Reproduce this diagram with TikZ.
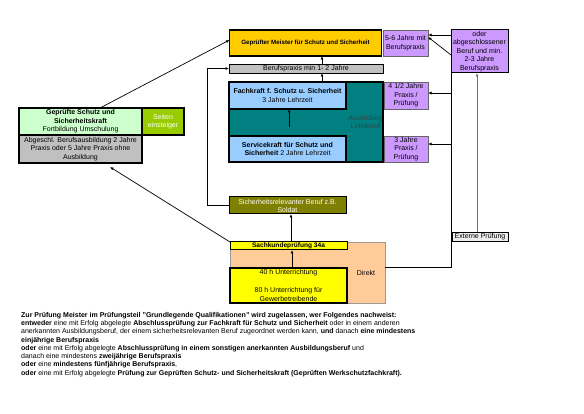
\documentclass[tikz,border=0pt]{standalone}
\usepackage{fontspec}
\setmainfont{Liberation Sans}
\usetikzlibrary{arrows.meta}
\definecolor{gold}{HTML}{FFCC00}
\definecolor{lila}{HTML}{CC99FF}
\definecolor{grau}{HTML}{C0C0C0}
\definecolor{petrol}{HTML}{008080}
\definecolor{hellblau}{HTML}{99CCFF}
\definecolor{hellgruen}{HTML}{CCFFCC}
\definecolor{gruen}{HTML}{99CC00}
\definecolor{oliv}{HTML}{808000}
\definecolor{pfirsich}{HTML}{FFCC99}
\definecolor{gelb}{HTML}{FFFF00}
\begin{document}
\begin{tikzpicture}[x=1pt,y=-1pt,>={Latex[length=3.5pt,width=3pt]}]
	
	% Style for the boxes
	\tikzstyle{box}=[
	rectangle,
	draw,
	inner sep=0pt,
	outer sep=0pt,
	align=center,
	font=\fontsize{7}{8.5}\selectfont
	]
	\tikzstyle{pbox}=[box, fill=lila, draw=black!60, line width=0.8pt]
	\tikzstyle{verb}=[->,line width=0.7pt]
	
	\fill[white] (0,0) rectangle (584,414);
	\useasboundingbox (0,0) rectangle (584,414);
	
	% --- Meister row ---
	\node[box, fill=gold, line width=1.5pt, minimum width=152pt, minimum height=26pt, font=\bfseries\fontsize{6.2}{8}\selectfont] (GMS) at (305.5,43) {Geprüfter Meister für Schutz und Sicherheit};
	\node[pbox, minimum width=45pt, minimum height=26pt] (J56) at (405.5,43) {5-6 Jahre mit\\Berufspraxis};
	\node[box, fill=lila, line width=1pt, minimum width=57pt, minimum height=43pt] (ABS) at (479.5,51.5) {oder\\abgeschlossener\\Beruf und min.\\2-3 Jahre\\Berufspraxis};
	\node[box, fill=grau, line width=0.8pt, minimum width=154pt, minimum height=9pt] (BP) at (306,68.5) {Berufspraxis min 1- 2 Jahre};
	
	% --- Lehrberuf ---
	\node[box, fill=petrol, line width=1.2pt, minimum width=154pt, minimum height=80pt] (AL) at (306,122) {};
	\node[box, fill=hellblau, line width=1.5pt, minimum width=117pt, minimum height=27pt] (FK) at (287.5,95.5) {\textbf{Fachkraft f. Schutz u. Sicherheit}\\3 Jahre Lehrzeit};
	\node[box, fill=hellblau, line width=1.5pt, minimum width=117pt, minimum height=26pt] (SK) at (287.5,149) {\textbf{Servicekraft für Schutz und}\\\textbf{Sicherheit} 2 Jahre Lehrzeit};
	\node[font=\fontsize{6.8}{8.5}\selectfont, text=black!75, align=center, inner sep=0pt] (ALT) at (365.5,122) {Ausbildung\\Lehrberuf};
	\node[pbox, minimum width=44pt, minimum height=27pt] (J45) at (406,95.5) {4 1/2 Jahre\\Praxis /\\Prüfung};
	\node[pbox, minimum width=44pt, minimum height=26pt] (J3) at (406,149) {3 Jahre\\Praxis /\\Prüfung};
	
	% --- Schutz und Sicherheitskraft ---
	\node[box, fill=hellgruen, line width=1.5pt, minimum width=123pt, minimum height=27pt] (GSK) at (80.5,121.5) {\textbf{Geprüfte Schutz und}\\\textbf{Sicherheitskraft}\\Fortbildung Umschulung};
	\node[box, fill=gruen, line width=1.5pt, text=white, minimum width=42pt, minimum height=27pt] (SE) at (163,121.5) {Seiten\\einsteiger};
	\node[box, fill=grau, line width=1.5pt, minimum width=123pt, minimum height=28pt] (AB) at (80.5,149) {Abgeschl. Berufsausbildung 2 Jahre\\Praxis oder 5 Jahre Praxis ohne\\Ausbildung};
	
	% --- Sachkunde ---
	\node[box, fill=oliv, line width=1pt, text=white, minimum width=117pt, minimum height=17pt, font=\fontsize{7}{8}\selectfont] (SRB) at (287.5,205.5) {Sicherheitsrelevanter Beruf z.B.\\Soldat};
	\node[box, fill=pfirsich, draw=black!40, line width=0.6pt, minimum width=155pt, minimum height=61pt] (DIR) at (307.5,272.5) {};
	\node[font=\fontsize{7}{8.5}\selectfont, inner sep=0pt] (DIRT) at (366,273) {Direkt};
	\node[box, fill=gelb, line width=1pt, minimum width=117pt, minimum height=8pt, font=\bfseries\fontsize{6.6}{8}\selectfont] (SKP) at (288.5,246) {Sachkundeprüfung 34a};
	\node[box, fill=gelb, line width=1.5pt, minimum width=117pt, minimum height=35pt] (UR) at (288.5,285.5) {40 h Unterrichtung\\[9.5pt]80 h Unterrichtung für\\Gewerbetreibende};
	\node[box, fill=grau!30, line width=0.8pt, minimum width=56pt, minimum height=9pt] (EP) at (480,236.5) {Externe Prüfung};
	
	% --- Text ---
	\node[anchor=north west, align=left, inner sep=0pt, font=\fontsize{7}{8.25}\selectfont] (TXT) at (21,312) {\textbf{Zur Prüfung Meister im Prüfungsteil "Grundlegende Qualifikationen" wird zugelassen, wer Folgendes nachweist:}\\
	\textbf{entweder} eine mit Erfolg abgelegte \textbf{Abschlussprüfung zur Fachkraft für Schutz und Sicherheit} oder in einem anderen\\
	anerkannten Ausbildungsberuf, der einem sicherheitsrelevanten Beruf zugeordnet werden kann, \textbf{und} danach \textbf{eine mindestens}\\
	\textbf{einjährige Berufspraxis}\\
	\textbf{oder} eine mit Erfolg abgelegte \textbf{Abschlussprüfung in einem sonstigen anerkannten Ausbildungsberuf} und\\
	danach eine mindestens \textbf{zweijährige Berufspraxis}\\
	\textbf{oder} eine \textbf{mindestens fünfjährige Berufspraxis},\\
	\textbf{oder} eine mit Erfolg abgelegte \textbf{Prüfung zur Geprüften Schutz- und Sicherheitskraft (Geprüften Werkschutzfachkraft).}};
	
	% --- Arrows ---
	\draw[verb] ([xshift=16pt]BP.north) -- ([xshift=16.5pt]GMS.south);
	\draw[verb] ([xshift=34.5pt]FK.north) -- ([xshift=16pt]BP.south);
	\draw[verb] ([xshift=1.5pt,yshift=9pt]SK.north) -- ([xshift=1.5pt]FK.south);
	\draw[verb] (SRB.west) -- ++(-22pt,0) |- (BP.west);
	\draw[verb] ([xshift=2.5pt]SKP.north) -- ([xshift=3.5pt]SRB.south);
	\draw[verb] ([xshift=3.5pt]UR.north) -- ([xshift=3.5pt]SKP.south);
	\draw[verb] (DIR.north west) -- ([xshift=29.5pt,yshift=-4pt]AB.south);
	\draw[verb] ([xshift=19.5pt]GSK.north) -- ([yshift=3pt]GMS.west);
	\draw[verb] ([yshift=5.5pt]DIR.east) -| ([yshift=16.5pt]ABS.west) -- ([yshift=8pt]J56.east);
	\draw[verb] ([yshift=-3.5pt]ABS.west) -- ([yshift=6pt]J56.east);
	\draw[verb] ([yshift=2.5pt]J45.east -| ABS.west) -- ([yshift=2.5pt]J45.east);
	\draw[verb] ([yshift=5pt]J3.east -| ABS.west) -- ([yshift=5pt]J3.east);
	\draw[verb, black!55] ([xshift=-3pt]EP.north) -- ([xshift=-2.5pt]ABS.south);
\end{tikzpicture}
\end{document}
